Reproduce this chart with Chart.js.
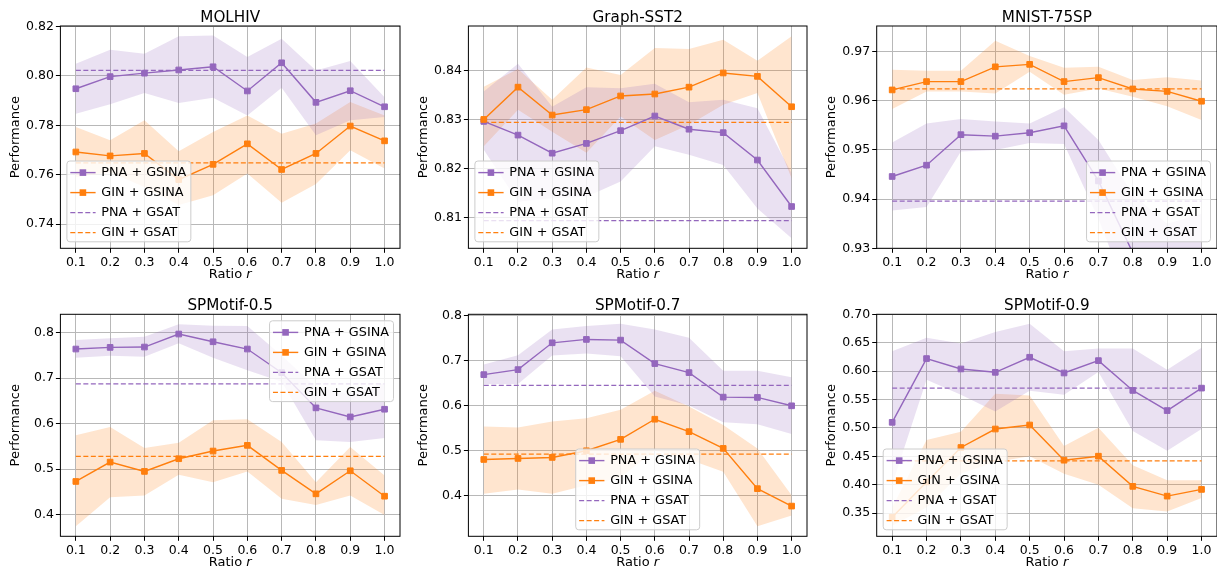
<!DOCTYPE html>
<html>
<head>
<meta charset="utf-8">
<script src="https://cdn.jsdelivr.net/npm/chart.js@4.4.0/dist/chart.umd.min.js"></script>
<style>
  html, body { margin: 0; padding: 0; background: #fff; overflow: hidden; width: 1217px; height: 567px; }
  canvas { position: absolute; }
</style>
</head>
<body>
<canvas id="c0" width="405" height="290" style="left:0px;top:0px"></canvas>
<canvas id="c1" width="408" height="290" style="left:404px;top:0px"></canvas>
<canvas id="c2" width="410" height="290" style="left:812px;top:0px"></canvas>
<canvas id="c3" width="405" height="290" style="left:0px;top:288px"></canvas>
<canvas id="c4" width="408" height="290" style="left:404px;top:288px"></canvas>
<canvas id="c5" width="410" height="290" style="left:812px;top:288px"></canvas>
<script>
// ratio r on the x axis
const ratios = [0.1, 0.2, 0.3, 0.4, 0.5, 0.6, 0.7, 0.8, 0.9, 1.0];

// MOLHIV
const molhivTicks = [0.74, 0.76, 0.78, 0.80, 0.82];
const molhivPna   = [0.7948, 0.7997, 0.8011, 0.8024, 0.8037, 0.7939, 0.8053, 0.7893, 0.7940, 0.7875];
const molhivPnaHi = [0.8049, 0.8106, 0.8090, 0.8160, 0.8164, 0.8076, 0.8150, 0.8022, 0.8060, 0.7914];
const molhivPnaLo = [0.7847, 0.7885, 0.7931, 0.7890, 0.7912, 0.7840, 0.7952, 0.7760, 0.7820, 0.7834];
const molhivGin   = [0.7692, 0.7676, 0.7686, 0.7580, 0.7642, 0.7725, 0.7621, 0.7686, 0.7797, 0.7737];
const molhivGinHi = [0.7793, 0.7739, 0.7820, 0.7695, 0.7773, 0.7840, 0.7766, 0.7807, 0.7894, 0.7840];
const molhivGinLo = [0.7590, 0.7610, 0.7550, 0.7477, 0.7517, 0.7605, 0.7486, 0.7562, 0.7699, 0.7625];
const molhivGsat  = [0.8022, 0.7648]; // PNA, GIN

// Graph-SST2
const sst2Ticks = [0.81, 0.82, 0.83, 0.84];
const sst2Pna   = [0.8296, 0.8268, 0.8231, 0.8251, 0.8277, 0.8307, 0.8280, 0.8273, 0.8217, 0.8122];
const sst2PnaHi = [0.8357, 0.8414, 0.8326, 0.8366, 0.8364, 0.8373, 0.8335, 0.8340, 0.8323, 0.8190];
const sst2PnaLo = [0.8238, 0.8132, 0.8139, 0.8142, 0.8173, 0.8245, 0.8228, 0.8207, 0.8118, 0.8057];
const sst2Gin   = [0.8300, 0.8366, 0.8309, 0.8320, 0.8348, 0.8352, 0.8366, 0.8395, 0.8388, 0.8326];
const sst2GinHi = [0.8367, 0.8403, 0.8340, 0.8406, 0.8391, 0.8446, 0.8444, 0.8463, 0.8420, 0.8470];
const sst2GinLo = [0.8245, 0.8320, 0.8275, 0.8232, 0.8306, 0.8258, 0.8289, 0.8330, 0.8354, 0.8180];
const sst2Gsat  = [0.8093, 0.8294];

// MNIST-75SP
const mnistTicks = [0.93, 0.94, 0.95, 0.96, 0.97];
const mnistPna   = [0.9446, 0.9469, 0.9531, 0.9528, 0.9535, 0.9549, 0.9437, 0.9291, 0.9255, 0.9270];
const mnistPnaHi = [0.9515, 0.9554, 0.9563, 0.9558, 0.9554, 0.9587, 0.9520, 0.9410, 0.9350, 0.9370];
const mnistPnaLo = [0.9377, 0.9384, 0.9497, 0.9500, 0.9514, 0.9512, 0.9360, 0.9180, 0.9160, 0.9170];
const mnistGin   = [0.9622, 0.9639, 0.9639, 0.9669, 0.9674, 0.9639, 0.9647, 0.9624, 0.9619, 0.9599];
const mnistGinHi = [0.9663, 0.9661, 0.9661, 0.9722, 0.9691, 0.9667, 0.9669, 0.9642, 0.9648, 0.9641];
const mnistGinLo = [0.9583, 0.9619, 0.9619, 0.9615, 0.9659, 0.9612, 0.9625, 0.9608, 0.9589, 0.9561];
const mnistGsat  = [0.9396, 0.9624];

// SPMotif-0.5
const sp05Ticks = [0.4, 0.5, 0.6, 0.7, 0.8];
const sp05Pna   = [0.7640, 0.7676, 0.7684, 0.7970, 0.7800, 0.7640, 0.7120, 0.6346, 0.6147, 0.6316];
const sp05PnaHi = [0.7838, 0.7875, 0.7912, 0.8184, 0.8154, 0.8147, 0.7500, 0.6800, 0.6650, 0.6900];
const sp05PnaLo = [0.7449, 0.7493, 0.7471, 0.7765, 0.7449, 0.7176, 0.6920, 0.5632, 0.5596, 0.5684];
const sp05Gin   = [0.4728, 0.5154, 0.4949, 0.5228, 0.5397, 0.5522, 0.4971, 0.4456, 0.4963, 0.4404];
const sp05GinHi = [0.5743, 0.5926, 0.5463, 0.5581, 0.6074, 0.6096, 0.5596, 0.4713, 0.5485, 0.4860];
const sp05GinLo = [0.3743, 0.4382, 0.4419, 0.4875, 0.4713, 0.4949, 0.4346, 0.4213, 0.4419, 0.3993];
const sp05Gsat  = [0.6875, 0.5279];

// SPMotif-0.7
const sp07Ticks = [0.4, 0.5, 0.6, 0.7, 0.8];
const sp07Pna   = [0.6682, 0.6794, 0.7389, 0.7464, 0.7449, 0.6928, 0.6727, 0.6183, 0.6176, 0.5990];
const sp07PnaHi = [0.6905, 0.7114, 0.7687, 0.7762, 0.7814, 0.7687, 0.7501, 0.6771, 0.6771, 0.6622];
const sp07PnaLo = [0.6474, 0.6474, 0.7107, 0.7151, 0.7092, 0.6198, 0.5997, 0.5625, 0.5580, 0.5364];
const sp07Gin   = [0.4798, 0.4821, 0.4843, 0.4992, 0.5245, 0.5692, 0.5416, 0.5044, 0.4150, 0.3763];
const sp07GinHi = [0.5528, 0.5506, 0.5640, 0.5714, 0.5900, 0.6325, 0.5975, 0.5565, 0.5044, 0.4001];
const sp07GinLo = [0.4039, 0.4129, 0.4039, 0.4225, 0.4400, 0.5000, 0.4800, 0.4523, 0.3317, 0.3555];
const sp07Gsat  = [0.6444, 0.4917];

// SPMotif-0.9
const sp09Ticks = [0.35, 0.40, 0.45, 0.50, 0.55, 0.60, 0.65, 0.70];
const sp09Pna   = [0.5099, 0.6221, 0.6038, 0.5979, 0.6244, 0.5967, 0.6185, 0.5660, 0.5306, 0.5701];
const sp09PnaHi = [0.6351, 0.6587, 0.6486, 0.6687, 0.6835, 0.6351, 0.6398, 0.6398, 0.6026, 0.6410];
const sp09PnaLo = [0.4000, 0.5849, 0.5583, 0.5288, 0.5654, 0.5583, 0.5985, 0.4946, 0.4598, 0.4981];
const sp09Gin   = [0.3430, 0.4050, 0.4656, 0.4981, 0.5052, 0.4432, 0.4503, 0.3972, 0.3800, 0.3918];
const sp09GinHi = [0.3600, 0.4786, 0.4934, 0.5601, 0.5571, 0.4680, 0.5005, 0.4344, 0.4078, 0.4078];
const sp09GinLo = [0.3280, 0.3600, 0.4200, 0.4400, 0.4500, 0.4196, 0.4001, 0.3588, 0.3529, 0.3765];
const sp09Gsat  = [0.5701, 0.4420];

const PURPLE = "#9467bd";
const ORANGE = "#ff7f0e";
const FONT = "'DejaVu Sans', sans-serif";

Chart.defaults.font.family = FONT;
Chart.defaults.color = "#000";

const panels = [
  { id: "c0", title: "MOLHIV", yMin: 0.7302, yMax: 0.8202, ticks: molhivTicks, dec: 2,
    series: [molhivPna, molhivPnaLo, molhivPnaHi, molhivGin, molhivGinLo, molhivGinHi], gsat: molhivGsat,
    legend: "lower left", axisW: 60.4, padR: 1.1, padT: 26 },
  { id: "c1", title: "Graph-SST2", yMin: 0.80366, yMax: 0.8491, ticks: sst2Ticks, dec: 2,
    series: [sst2Pna, sst2PnaLo, sst2PnaHi, sst2Gin, sst2GinLo, sst2GinHi], gsat: sst2Gsat,
    legend: "lower left", axisW: 64.4, padR: 0.7, padT: 26 },
  { id: "c2", title: "MNIST-75SP", yMin: 0.93, yMax: 0.9752, ticks: mnistTicks, dec: 2,
    series: [mnistPna, mnistPnaLo, mnistPnaHi, mnistGin, mnistGinLo, mnistGinHi], gsat: mnistGsat,
    legend: "lower right", axisW: 64.7, padR: 2, padT: 26 },
  { id: "c3", title: "SPMotif-0.5", yMin: 0.3522, yMax: 0.8404, ticks: sp05Ticks, dec: 1,
    series: [sp05Pna, sp05PnaLo, sp05PnaHi, sp05Gin, sp05GinLo, sp05GinHi], gsat: sp05Gsat,
    legend: "upper right", axisW: 60.4, padR: 1.1, padT: 26.3 },
  { id: "c4", title: "SPMotif-0.7", yMin: 0.3092, yMax: 0.8022, ticks: sp07Ticks, dec: 1,
    series: [sp07Pna, sp07PnaLo, sp07PnaHi, sp07Gin, sp07GinLo, sp07GinHi], gsat: sp07Gsat,
    legend: "lower center", axisW: 64.4, padR: 0.7, padT: 26.3 },
  { id: "c5", title: "SPMotif-0.9", yMin: 0.3093, yMax: 0.70, ticks: sp09Ticks, dec: 2,
    series: [sp09Pna, sp09PnaLo, sp09PnaHi, sp09Gin, sp09GinLo, sp09GinHi], gsat: sp09Gsat,
    legend: "lower left", axisW: 64.7, padR: 2, padT: 26.3 },
];

const toPoints = vals => vals.map((v, i) => ({ x: ratios[i], y: v }));
const flatLine = v => [{ x: ratios[0], y: v }, { x: ratios[ratios.length - 1], y: v }];

// black frame round the plot area
const frame = {
  id: "frame",
  afterDatasetsDraw(chart) {
    const { ctx, chartArea: a } = chart;
    ctx.save();
    ctx.strokeStyle = "#000";
    ctx.lineWidth = 1;
    ctx.strokeRect(a.left, a.top, a.width, a.height);
    ctx.restore();
  }
};

// panel title centred over the plot area, and "Ratio r" with italic r
const axTexts = {
  id: "axTexts",
  afterDraw(chart, args, opts) {
    const { ctx, chartArea: a } = chart;
    const cx = (a.left + a.right) / 2;
    ctx.save();
    ctx.fillStyle = "#000";
    ctx.textAlign = "center";
    ctx.textBaseline = "alphabetic";
    ctx.font = "15.2px " + FONT;
    ctx.fillText(opts.title, cx, a.top - 4.2);

    ctx.textAlign = "left";
    ctx.textBaseline = "middle";
    ctx.font = "13px " + FONT;
    const w1 = ctx.measureText("Ratio ").width;
    ctx.font = "italic 13px " + FONT;
    const w2 = ctx.measureText("r").width;
    const x0 = cx - (w1 + w2) / 2;
    const y = a.bottom + 26.5;
    ctx.font = "13px " + FONT;
    ctx.fillText("Ratio ", x0, y);
    ctx.font = "italic 13px " + FONT;
    ctx.fillText("r", x0 + w1, y);
    ctx.restore();
  }
};

// matplotlib-like legend inside the axes
const legendBox = {
  id: "legendBox",
  afterDraw(chart, args, opts) {
    const { ctx, chartArea: a } = chart;
    const items = chart.data.datasets.filter(d => d.inLegend);
    ctx.save();
    ctx.font = "12.8px " + FONT;
    const textW = Math.max(...items.map(d => ctx.measureText(d.label).width));
    const rowH = 20, gap = 6.5;
    const w = 34.4 + textW + 4.5;
    const h = 20.8 + rowH * (items.length - 1);
    const loc = opts.loc;
    let x;
    if (loc.includes("left")) x = a.left + gap;
    else if (loc.includes("right")) x = a.right - gap - w;
    else x = (a.left + a.right - w) / 2;
    const y = loc.includes("upper") ? a.top + gap : a.bottom - gap - h;

    ctx.beginPath();
    if (ctx.roundRect) ctx.roundRect(x, y, w, h, 3); else ctx.rect(x, y, w, h);
    ctx.fillStyle = "rgba(255,255,255,0.8)";
    ctx.fill();
    ctx.strokeStyle = "#cccccc";
    ctx.lineWidth = 1;
    ctx.stroke();

    items.forEach((d, i) => {
      const cy = y + 11.6 + i * rowH;
      ctx.strokeStyle = d.borderColor;
      ctx.lineWidth = d.borderWidth;
      ctx.setLineDash(d.borderDash || []);
      ctx.beginPath();
      ctx.moveTo(x + 3.4, cy);
      ctx.lineTo(x + 28.7, cy);
      ctx.stroke();
      ctx.setLineDash([]);
      if (d.pointRadius > 0) {
        ctx.fillStyle = d.borderColor;
        ctx.fillRect(x + 16 - 3.3, cy - 3.3, 6.6, 6.6);
      }
      ctx.fillStyle = "#000";
      ctx.textBaseline = "middle";
      ctx.textAlign = "left";
      ctx.fillText(d.label, x + 34.4, cy);
    });
    ctx.restore();
  }
};

function band(vals, color, fill) {
  return { data: toPoints(vals), borderWidth: 0, pointRadius: 0, fill: fill,
           backgroundColor: color, order: 3 };
}

function mainLine(label, vals, color, order) {
  return { label: label, inLegend: true, data: toPoints(vals), borderColor: color,
           backgroundColor: color, borderWidth: 1.4, pointStyle: "rect", pointRadius: 4,
           pointBorderWidth: 1, pointBorderColor: color, pointBackgroundColor: color,
           fill: false, order: order, tension: 0 };
}

function gsatLine(label, v, color) {
  return { label: label, inLegend: true, data: flatLine(v), borderColor: color,
           borderWidth: 1.2, borderDash: [5, 2.5], pointRadius: 0, fill: false, order: 2 };
}

panels.forEach(p => {
  const [pna, pnaLo, pnaHi, gin, ginLo, ginHi] = p.series;
  const ctx = document.getElementById(p.id).getContext("2d");
  new Chart(ctx, {
    type: "line",
    data: {
      datasets: [
        band(pnaHi, "rgba(148,103,189,0.2)", "+1"),
        band(pnaLo, "rgba(148,103,189,0.2)", false),
        band(ginHi, "rgba(255,127,14,0.2)", "+1"),
        band(ginLo, "rgba(255,127,14,0.2)", false),
        mainLine("PNA + GSINA", pna, PURPLE, 1),
        mainLine("GIN + GSINA", gin, ORANGE, 0),
        gsatLine("PNA + GSAT", p.gsat[0], PURPLE),
        gsatLine("GIN + GSAT", p.gsat[1], ORANGE),
      ],
    },
    options: {
      responsive: false,
      animation: false,
      events: [],
      layout: { padding: { top: p.padT, right: p.padR, left: 0, bottom: 0 } },
      scales: {
        x: {
          type: "linear",
          min: 0.055,
          max: 1.045,
          afterBuildTicks: s => { s.ticks = ratios.map(v => ({ value: v })); },
          afterFit: s => { s.height = 41.7; },
          ticks: {
            autoSkip: false, maxRotation: 0, padding: 2,
            font: { size: 12.5 },
            callback: v => v.toFixed(1),
          },
          grid: { color: "#b8b8b8", lineWidth: 1, tickColor: "#000", tickLength: 4.5, tickWidth: 1 },
          border: { display: false },
        },
        y: {
          type: "linear",
          min: p.yMin,
          max: p.yMax,
          afterBuildTicks: s => { s.ticks = p.ticks.map(v => ({ value: v })); },
          afterFit: s => { s.width = p.axisW; },
          ticks: {
            padding: 2,
            font: { size: 12.5 },
            callback: v => v.toFixed(p.dec),
          },
          grid: { color: "#b8b8b8", lineWidth: 1, tickColor: "#000", tickLength: 4.5, tickWidth: 1 },
          border: { display: false },
          title: {
            display: true,
            text: "Performance",
            font: { size: 13 },
            padding: { top: p.axisW - 45 - 7.8, bottom: 0 },
          },
        },
      },
      plugins: {
        legend: { display: false },
        tooltip: { enabled: false },
        title: { display: false },
        axTexts: { title: p.title },
        legendBox: { loc: p.legend },
      },
    },
    plugins: [frame, axTexts, legendBox],
  });
});
</script>
</body>
</html>
